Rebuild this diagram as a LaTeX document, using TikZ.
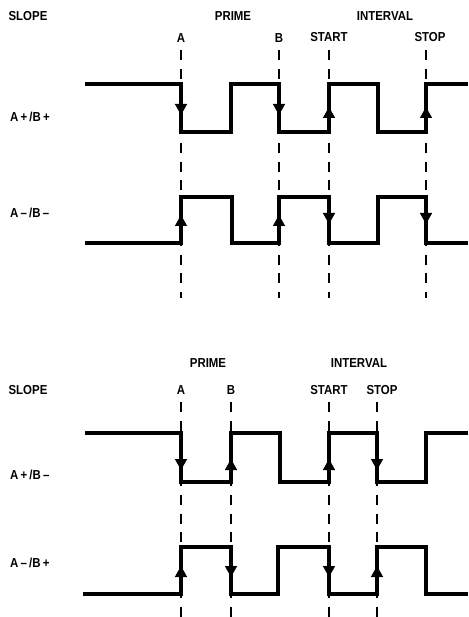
\documentclass[tikz,border=0pt]{standalone}
\usepackage{fontspec}
\newfontfamily\sigfont{Liberation Sans}[FakeStretch=0.88]
\usepackage{tikz}
\usetikzlibrary{arrows.meta}

\tikzset{
  lbl/.style   = {font=\sigfont\bfseries\fontsize{13}{13}\selectfont, inner sep=0pt},
  wave/.style  = {line width=3.2pt, line join=miter},
  guide/.style = {line width=1.4pt, dash pattern=on 10pt off 8.6pt},
  flip/.style  = {-{Triangle[length=11pt,width=12pt]}, line width=1.5pt},
}

\begin{document}
\begin{tikzpicture}[x=1pt, y=-1pt]
\useasboundingbox (0,0) rectangle (468,617);

% upper panel
\node[lbl] (slope1) at (28,16)  {SLOPE};
\node[lbl] (prime1) at (233,16) {PRIME};
\node[lbl] (int1)   at (385,16) {INTERVAL};
\node[lbl] (a1)     at (181,38) {A};
\node[lbl] (b1)     at (279,38) {B};
\node[lbl] (start1) at (329,37) {START};
\node[lbl] (stop1)  at (430,37) {STOP};
\node[lbl, anchor=west] (pp) at (10,117) {A\,+\,/B\,+};
\node[lbl, anchor=west] (mm) at (10,213) {A\,–\,/B\,–};

\foreach \x in {181,279,329,426}
  \draw[guide] (\x,50) -- (\x,298);

\draw[wave] (85,84) -| (181,132) -| (231,84) -| (279,132) -| (329,84)
  -| (378,132) -| (426,84) -- (468,84);
\draw[wave] (85,243) -| (181,197) -| (232,243) -| (279,197) -| (329,243)
  -| (378,197) -| (426,243) -- (468,243);

\foreach \x/\ya/\yb in {181/101/115, 279/101/115, 329/119/107, 426/119/107,
                        181/229/215, 279/229/215, 329/210/224, 426/210/224}
  \draw[flip] (\x,\ya) -- (\x,\yb);

% lower panel
\node[lbl] (prime2) at (208,363) {PRIME};
\node[lbl] (int2)   at (359,363) {INTERVAL};
\node[lbl] (slope2) at (28,390)  {SLOPE};
\node[lbl] (a2)     at (181,390) {A};
\node[lbl] (b2)     at (231,390) {B};
\node[lbl] (start2) at (329,390) {START};
\node[lbl] (stop2)  at (382,390) {STOP};
\node[lbl, anchor=west] (pm) at (10,475) {A\,+\,/B\,–};
\node[lbl, anchor=west] (mp) at (10,563) {A\,–\,/B\,+};

\foreach \x in {181,231,329,377}
  \draw[guide] (\x,402) -- (\x,617);

\draw[wave] (85,433) -| (181,482) -| (231,433) -| (280,482) -| (329,433)
  -| (377,482) -| (426,433) -- (468,433);
\draw[wave] (83,594) -| (181,547) -| (231,594) -| (278,547) -| (329,594)
  -| (377,547) -| (426,594) -- (468,594);

\foreach \x/\ya/\yb in {181/455/470, 231/474/459, 329/474/459, 377/455/470,
                        181/580/566, 231/563/577, 329/563/577, 377/580/566}
  \draw[flip] (\x,\ya) -- (\x,\yb);
\end{tikzpicture}
\end{document}
